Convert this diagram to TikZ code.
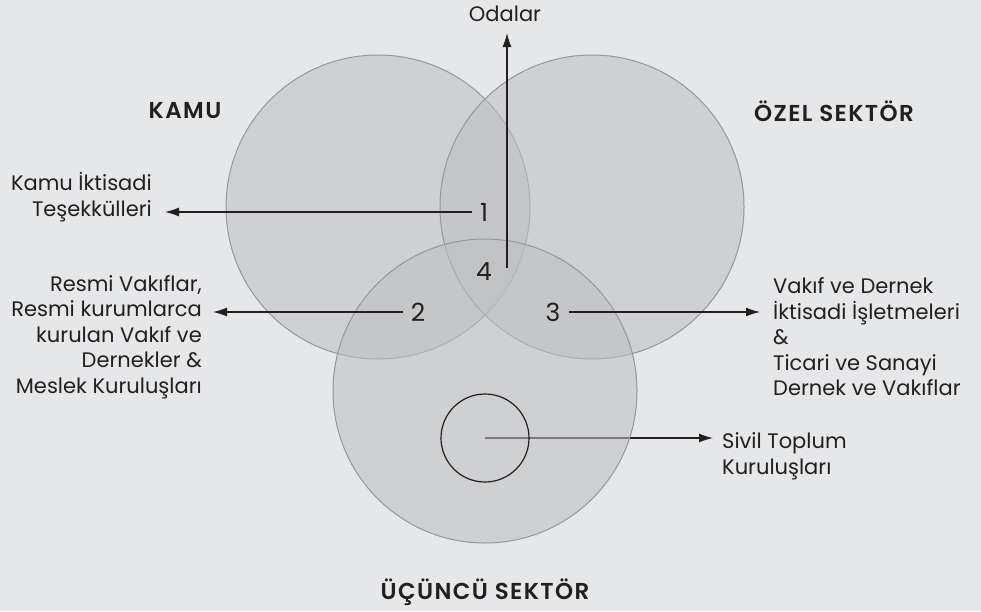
\documentclass[tikz,border=0pt]{standalone}
\usepackage{fontspec}
\setmainfont{Poppins}
\newfontfamily\ttlfont{Poppins SemiBold}[LetterSpace=6]
\usetikzlibrary{arrows.meta}
\definecolor{bg}{RGB}{230,231,232}
\definecolor{cfill}{RGB}{190,191,193}
\definecolor{cline}{RGB}{150,151,153}
\definecolor{ink}{RGB}{35,31,32}
\tikzset{
  bigcirc/.style={draw=cline, line width=1pt, fill=cfill, fill opacity=0.57},
  arr/.style={draw=ink, line width=1.3pt, -{Latex[length=14pt,width=9pt]}},
  lbl/.style={font=\fontsize{21}{25.5}\selectfont, text=ink, inner sep=0pt},
  num/.style={font=\fontsize{25}{28}\selectfont, text=ink, inner sep=0pt},
  ttl/.style={font=\fontsize{23}{26}\ttlfont, text=ink, inner sep=0pt}
}
\begin{document}
\begin{tikzpicture}[x=1pt,y=-1pt]
\fill[bg] (0,0) rectangle (981,611);
\useasboundingbox (0,0) rectangle (981,611);
% Sivil line (under circles)
\coordinate (sc) at (485,438);
\node[lbl, anchor=west, align=left] (sivil) at (722,456) {Sivil Toplum\\Kuruluşları};
\draw[arr] (sc) -- (713,438) coordinate (sivtip);
% circles
\path[bigcirc] (378,207) circle (152);
\path[bigcirc] (592,207) circle (152);
\path[bigcirc] (485,391) circle (152);
\draw[ink, line width=1.2pt] (sc) circle (44);
% titles
\node[ttl] (kamu) at (185,111) {KAMU};
\node[ttl] (ozel) at (834,111) {ÖZEL SEKTÖR};
\node[ttl] (ucuncu) at (485,592) {ÜÇÜNCÜ SEKTÖR};
% numbers
\node[num] (n1) at (484,212) {1};
\node[num] (n4) at (484,272) {4};
\node[num] (n2) at (418,312) {2};
\node[num] (n3) at (553,312) {3};
% labels
\node[lbl] (odalar) at (505,14) {Odalar};
\node[lbl, anchor=east, align=right] (kit) at (152,197) {Kamu İktisadi\\Teşekkülleri};
\node[lbl, anchor=east, align=right] (resmi) at (202,337) {Resmi Vakıflar,\\Resmi kurumlarca\\kurulan Vakıf ve\\Dernekler \&\\Meslek Kuruluşları};
\node[lbl, anchor=west, align=left] (vakif) at (773,337) {Vakıf ve Dernek\\İktisadi İşletmeleri\\\&\\Ticari ve Sanayi\\Dernek ve Vakıflar};
% arrows
\draw[arr] (507,268) -- (507,33);
\draw[arr] (n1.west) ++(-8,0) -- (165,212);
\draw[arr] (n2.west) ++(-8,0) -- (213,312);
\draw[arr] (n3.east) ++(8,0) -- (760,312);
\end{tikzpicture}
\end{document}
